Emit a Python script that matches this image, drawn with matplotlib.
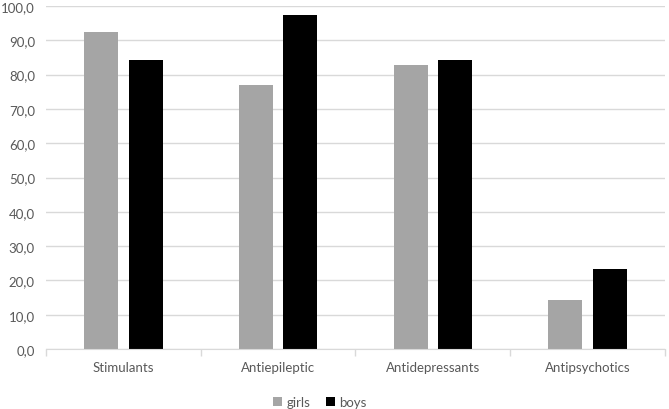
import numpy as np
import matplotlib
matplotlib.use("Agg")
import matplotlib.pyplot as plt

# data
categories = ["Stimulants", "Antiepileptic", "Antidepressants", "Antipsychotics"]
girls = [92.3, 77.1, 82.7, 14.3]
boys = [84.3, 97.3, 84.3, 23.3]
yticks = [0, 10, 20, 30, 40, 50, 60, 70, 80, 90, 100]

plt.rcParams['font.family'] = ['Lato', 'DejaVu Sans']
text_col = '#595959'
grid_col = '#d9d9d9'

fig = plt.figure(figsize=(6.69, 4.10), dpi=100)
ax = fig.add_axes([46 / 669, 1 - 350 / 410, (665 - 46) / 669, (350 - 7) / 410])

x = np.arange(len(categories))
w = 0.22
ax.bar(x - 0.144, girls, w, color='#a5a5a5', label='girls', zorder=3)
ax.bar(x + 0.144, boys, w, color='#000000', label='boys', zorder=3)

ax.set_xlim(-0.5, len(categories) - 0.5)
ax.set_ylim(0, 100)
ax.set_yticks(yticks)
ax.set_yticklabels([f"{v:.1f}".replace('.', ',') for v in yticks])
ax.yaxis.grid(True, color=grid_col, linewidth=1, zorder=0)

# category boundaries as ticks, names at centers
ax.set_xticks(np.arange(-0.5, len(categories)), minor=False)
ax.set_xticklabels([])
ax.set_xticks(x, minor=True)
ax.set_xticklabels(categories, minor=True)
ax.tick_params(axis='x', which='major', length=5, color=grid_col, width=1)
ax.tick_params(axis='x', which='minor', length=0, pad=9, labelsize=9.5, labelcolor=text_col)
ax.tick_params(axis='y', length=0, pad=8, labelsize=9.5, labelcolor=text_col)

for s in ['top', 'right', 'left']:
    ax.spines[s].set_visible(False)
ax.spines['bottom'].set_color(grid_col)
ax.spines['bottom'].set_zorder(4)

fig.legend(loc='center', bbox_to_anchor=(320 / 669, 1 - 403 / 410), ncol=2, frameon=False,
           fontsize=9.5, labelcolor=text_col, handlelength=0.7, handleheight=0.7,
           handletextpad=0.3, columnspacing=1.2)

fig.savefig("out.png", dpi=100)
